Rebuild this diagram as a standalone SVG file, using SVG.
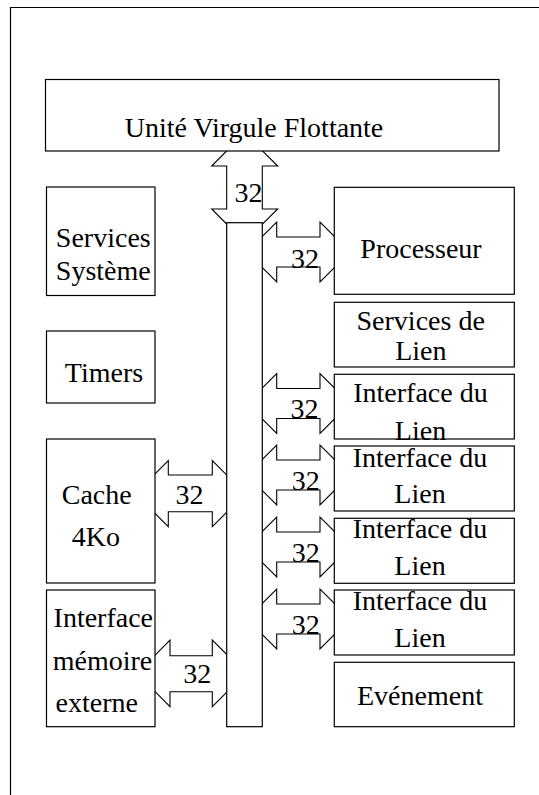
<svg xmlns="http://www.w3.org/2000/svg" xmlns:xlink="http://www.w3.org/1999/xlink" width="539" height="795" viewBox="0 0 539 795" font-family="Liberation Serif, Times New Roman, DejaVu Serif, serif">
  <style>
    .box { fill: #fff; stroke: #000; stroke-width: 1.2; }
    .arr { fill: #fff; stroke: #000; stroke-width: 1.1; stroke-linejoin: miter; }
    .frame { fill: none; stroke: #000; stroke-width: 1.2; }
    .t { font-size: 28px; fill: #000; text-anchor: middle; }
  </style>
  <defs>
    <polygon id="rarrow" points="246.7,30 276.7,0 276.7,15 320,15 320,0 350,30 320,60 320,45 276.7,45 276.7,60"/>
  </defs>
  <rect width="539" height="795" fill="#fff"/>
  <path class="frame" d="M10.5,795 V7.5 H539"/>

  <g id="connectors">
    <polygon class="arr" points="244.5,133 277.7,166 262.3,166 262.3,209 277.7,209 244.5,242 211.7,209 226.7,209 226.7,166 211.7,166"/>
    <use class="arr" xlink:href="#rarrow" transform="translate(0,222)"/>
    <use class="arr" xlink:href="#rarrow" transform="translate(0,373.5)"/>
    <use class="arr" xlink:href="#rarrow" transform="translate(0,445)"/>
    <use class="arr" xlink:href="#rarrow" transform="translate(0,517)"/>
    <use class="arr" xlink:href="#rarrow" transform="translate(0,589)"/>
    <polygon class="arr" points="135.3,493.7 168.3,460.7 168.3,475 212.3,475 212.3,460.7 245.3,493.7 212.3,526.7 212.3,511.7 168.3,511.7 168.3,526.7"/>
    <polygon class="arr" points="137,673.3 170,640 170,655.7 212.3,655.7 212.3,640 245.6,673.3 212.3,706.7 212.3,691.7 170,691.7 170,706.7"/>
    <rect id="bus" class="box" x="226.7" y="222.7" width="35.6" height="504"/>
  </g>

  <g id="fpu"><rect class="box" x="45.5" y="79.5" width="453.5" height="71.5"/><text class="t" x="254" y="136.7">Unité Virgule Flottante</text></g>
  <g id="services-systeme"><rect class="box" x="46.5" y="187" width="108.5" height="108.5"/><text class="t" x="103.3" y="246.7">Services</text><text class="t" x="103.3" y="280">Système</text></g>
  <g id="timers"><rect class="box" x="46.5" y="331" width="108.5" height="72"/><text class="t" x="104" y="382">Timers</text></g>
  <g id="cache"><rect class="box" x="46.5" y="439" width="108.5" height="144"/><text class="t" x="96.7" y="504">Cache</text><text class="t" x="95.8" y="546">4Ko</text></g>
  <g id="ext-mem"><rect class="box" x="46.5" y="590" width="108.5" height="136.7"/><text class="t" x="103.3" y="626.7">Interface</text><text class="t" x="102.5" y="670">mémoire</text><text class="t" x="96.7" y="711.7">externe</text></g>

  <g id="processeur"><rect class="box" x="334.3" y="187.3" width="180" height="107"/><text class="t" x="421" y="258.3">Processeur</text></g>
  <g id="services-lien"><rect class="box" x="334.3" y="302.3" width="180" height="64.7"/><text class="t" x="420.7" y="330">Services de</text><text class="t" x="420.8" y="360">Lien</text></g>
  <g id="if1"><rect class="box" x="334.3" y="374.3" width="180" height="64.7"/><text class="t" x="420.5" y="402">Interface du</text><text class="t" x="420.5" y="440">Lien</text></g>
  <g id="if2"><rect class="box" x="334.3" y="446" width="180" height="65"/><text class="t" x="420" y="466.7">Interface du</text><text class="t" x="420" y="503.3">Lien</text></g>
  <g id="if3"><rect class="box" x="334.3" y="518.3" width="180" height="65"/><text class="t" x="420" y="538.3">Interface du</text><text class="t" x="420" y="575">Lien</text></g>
  <g id="if4"><rect class="box" x="334.3" y="590" width="180" height="65"/><text class="t" x="420" y="610">Interface du</text><text class="t" x="420" y="646.7">Lien</text></g>
  <g id="evenement"><rect class="box" x="334.3" y="662.3" width="180" height="64.4"/><text class="t" x="420" y="705">Evénement</text></g>

  <g id="connector-labels">
    <text class="t" x="248.5" y="202.3">32</text>
    <text class="t" x="305" y="267.7">32</text>
    <text class="t" x="304.5" y="417.7">32</text>
    <text class="t" x="305.8" y="490">32</text>
    <text class="t" x="305.8" y="561.7">32</text>
    <text class="t" x="305.8" y="634">32</text>
    <text class="t" x="189.5" y="504">32</text>
    <text class="t" x="197.3" y="683">32</text>
  </g>
</svg>
